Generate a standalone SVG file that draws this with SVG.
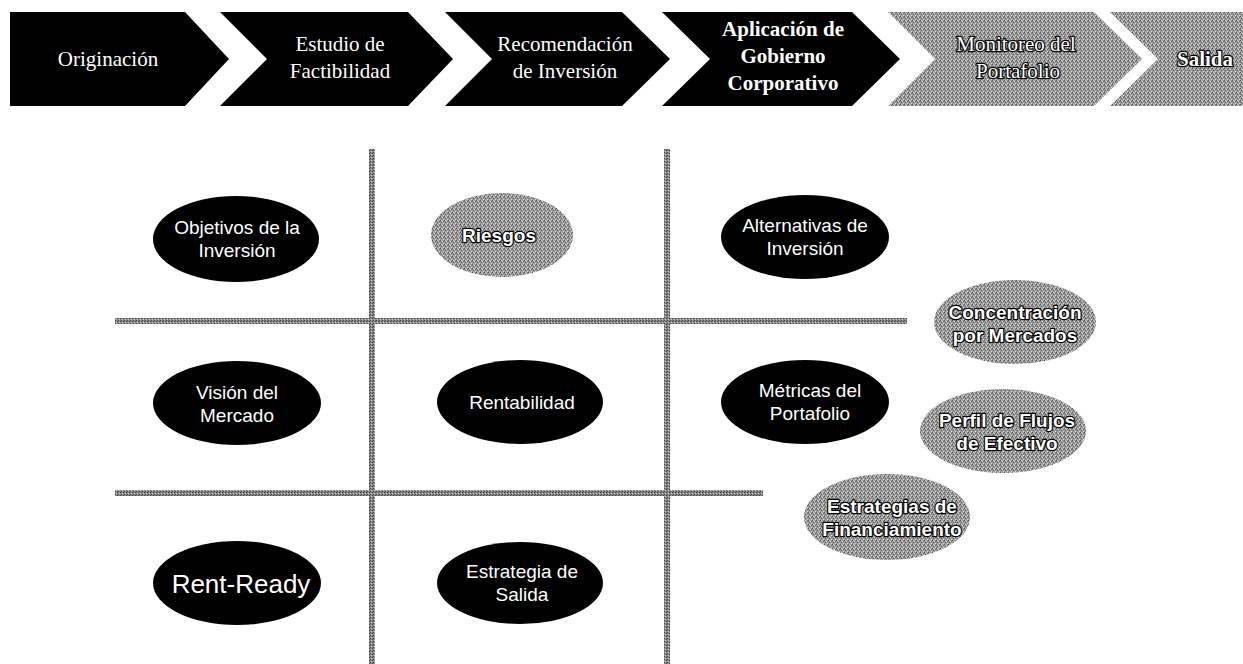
<svg xmlns="http://www.w3.org/2000/svg" width="1243" height="664" viewBox="0 0 1243 664">
<defs>
<pattern id="dither" width="4" height="4" patternUnits="userSpaceOnUse">
<rect width="4" height="4" fill="#9a9a9a"/>
<rect x="0" y="0" width="1" height="1" fill="#4a4a4a"/>
<rect x="2" y="1" width="1" height="1" fill="#d4d4d4"/>
<rect x="1" y="2" width="1" height="1" fill="#5e5e5e"/>
<rect x="3" y="3" width="1" height="1" fill="#dcdcdc"/>
<rect x="3" y="1" width="1" height="1" fill="#6a6a6a"/>
<rect x="1" y="0" width="1" height="1" fill="#c8c8c8"/>
</pattern>
<pattern id="ldither" width="3" height="3" patternUnits="userSpaceOnUse">
<rect width="3" height="3" fill="#888"/>
<rect x="0" y="0" width="1" height="1" fill="#3c3c3c"/>
<rect x="2" y="1" width="1" height="1" fill="#d0d0d0"/>
<rect x="1" y="2" width="1" height="1" fill="#4c4c4c"/>
</pattern>
</defs>
<style>
.blk{fill:#000}
.gry{fill:url(#dither)}
.ct{font-family:"Liberation Serif","Times New Roman",serif;font-size:21px;fill:#fff;text-anchor:middle}
.ctb{font-weight:bold}
.cto{stroke:#000;stroke-width:2.4px;paint-order:stroke;stroke-linejoin:round}
.et{font-family:"Liberation Sans",Arial,sans-serif;font-size:19px;fill:#fff;text-anchor:middle}
.eto{font-weight:bold;stroke:#000;stroke-width:2.4px;paint-order:stroke;stroke-linejoin:round}
.grid line{stroke:url(#ldither);stroke-width:6}
</style>
<rect width="1243" height="664" fill="#fff"/>

<g id="chevrons">
<g id="ch1"><polygon class="blk" points="10,12 185,12 229,59 185,106 10,106"/><text class="ct" x="108" y="66">Originación</text></g>
<g id="ch2"><polygon class="blk" points="220,12 408,12 453,59 408,106 220,106 267,59"/><text class="ct" x="340" y="51">Estudio de</text><text class="ct" x="340" y="78">Factibilidad</text></g>
<g id="ch3"><polygon class="blk" points="445,12 622,12 670,59 622,106 445,106 492,59"/><text class="ct" x="565" y="51">Recomendación</text><text class="ct" x="565" y="78">de Inversión</text></g>
<g id="ch4"><polygon class="blk" points="662,12 852,12 900,59 852,106 662,106 710,59"/><text class="ct ctb" x="783" y="36">Aplicación de</text><text class="ct ctb" x="783" y="63">Gobierno</text><text class="ct ctb" x="783" y="90">Corporativo</text></g>
<g id="ch5"><polygon class="gry" points="888,12 1094,12 1142,59 1094,106 888,106 935,59"/><text class="ct cto" x="1016" y="51">Monitoreo del</text><text class="ct cto" x="1018" y="78">Portafolio</text></g>
<g id="ch6"><polygon class="gry" points="1110,12 1243,12 1243,106 1110,106 1158,59"/><text class="ct ctb cto" x="1205" y="66">Salida</text></g>
</g>

<g id="connectors" class="grid">
<line x1="372" y1="149" x2="372" y2="664"/>
<line x1="667" y1="149" x2="667" y2="664"/>
<line x1="115" y1="321" x2="907" y2="321"/>
<line x1="115" y1="493" x2="763" y2="493"/>
</g>

<g id="objetivos"><ellipse class="blk" cx="236" cy="239" rx="83" ry="43"/><text class="et" x="237" y="234">Objetivos de la</text><text class="et" x="237" y="257">Inversión</text></g>
<g id="riesgos"><ellipse class="gry" cx="502" cy="235" rx="71" ry="42"/><text class="et eto" x="499" y="242">Riesgos</text></g>
<g id="alternativas"><ellipse class="blk" cx="805" cy="237" rx="84" ry="42"/><text class="et" x="805" y="232">Alternativas de</text><text class="et" x="805" y="255">Inversión</text></g>
<g id="concentracion"><ellipse class="gry" cx="1015" cy="322" rx="81" ry="42"/><text class="et eto" x="1015" y="319">Concentración</text><text class="et eto" x="1015" y="342">por Mercados</text></g>
<g id="vision"><ellipse class="blk" cx="237" cy="403" rx="84" ry="42"/><text class="et" x="237" y="399">Visión del</text><text class="et" x="237" y="422">Mercado</text></g>
<g id="rentabilidad"><ellipse class="blk" cx="520" cy="402" rx="83" ry="42"/><text class="et" x="522" y="409">Rentabilidad</text></g>
<g id="metricas"><ellipse class="blk" cx="805" cy="402" rx="84" ry="42"/><text class="et" x="810" y="397">Métricas del</text><text class="et" x="810" y="420">Portafolio</text></g>
<g id="perfil"><ellipse class="gry" cx="1003" cy="431" rx="83" ry="42"/><text class="et eto" x="1007" y="427">Perfil de Flujos</text><text class="et eto" x="1007" y="450">de Efectivo</text></g>
<g id="financiamiento"><ellipse class="gry" cx="887" cy="517" rx="83" ry="43"/><text class="et eto" x="892" y="513">Estrategias de</text><text class="et eto" x="892" y="536">Financiamiento</text></g>
<g id="rentready"><ellipse class="blk" cx="237" cy="583" rx="84" ry="42"/><text class="et" x="241" y="593" style="font-size:26px">Rent-Ready</text></g>
<g id="salida"><ellipse class="blk" cx="520" cy="583" rx="83" ry="41"/><text class="et" x="522" y="578">Estrategia de</text><text class="et" x="522" y="601">Salida</text></g>
</svg>
